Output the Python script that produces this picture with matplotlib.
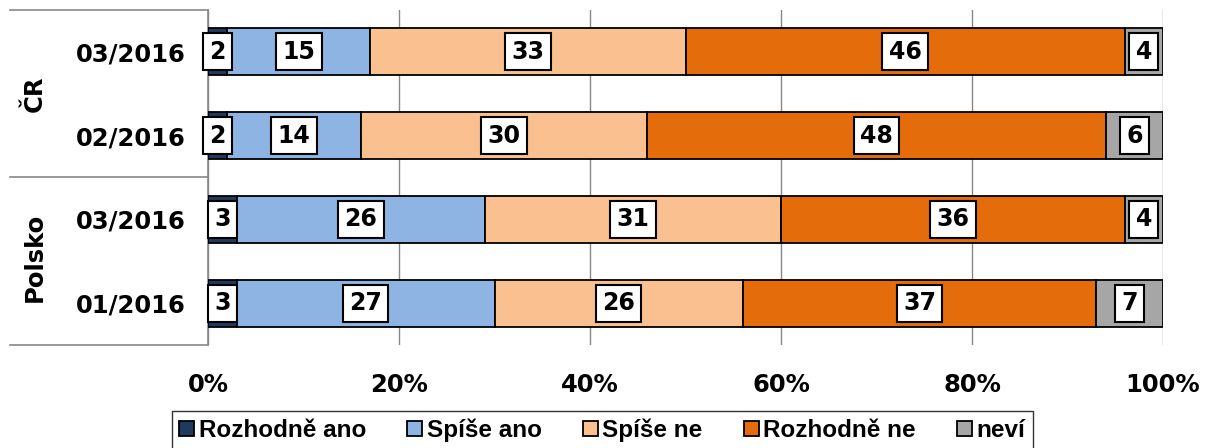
import numpy as np
import matplotlib
matplotlib.use("Agg")
import matplotlib.pyplot as plt
import matplotlib.transforms as mtransforms

# data (top to bottom)
row_labels = ["03/2016", "02/2016", "03/2016", "01/2016"]
groups = ["ČR", "Polsko"]
categories = ["Rozhodně ano", "Spíše ano", "Spíše ne", "Rozhodně ne", "neví"]
rozhodne_ano = [2, 2, 3, 3]
spise_ano = [15, 14, 26, 27]
spise_ne = [33, 30, 31, 26]
rozhodne_ne = [46, 48, 36, 37]
nevi = [4, 6, 4, 7]

colors = ["#1F3A5F", "#8DB4E2", "#FAC090", "#E46C0A", "#A6A6A6"]

plt.rcParams['font.family'] = ['DejaVu Sans']
plt.rcParams['font.weight'] = 'bold'

fig = plt.figure(figsize=(12.12, 4.48), dpi=100)
ax = fig.add_axes([208/1212, 1-345/448, (1163-208)/1212, (345-10)/448])

series = [rozhodne_ano, spise_ano, spise_ne, rozhodne_ne, nevi]
ypos = np.arange(len(row_labels))[::-1]
left = np.zeros(len(row_labels))
for vals, col, name in zip(series, colors, categories):
    vals = np.array(vals, dtype=float)
    ax.barh(ypos, vals, left=left, height=0.56, color=col, edgecolor='black',
            linewidth=1.3, label=name, zorder=3)
    for y, l, v in zip(ypos, left, vals):
        ax.text(l + v / 2, y, f"{int(v)}", ha='center', va='center',
                fontsize=17, fontweight='bold', zorder=5,
                bbox=dict(boxstyle='square,pad=0.27', fc='white', ec='black', lw=1.5))
    left += vals

ax.set_xlim(0, 100)
ax.set_ylim(-0.5, 3.5)
ax.set_xticks(np.arange(0, 101, 20))
ax.set_xticklabels([f"{v}%" for v in range(0, 101, 20)], fontsize=17.5, fontweight='bold')
ax.set_yticks(ypos)
ax.set_yticklabels(row_labels, fontsize=17.5, fontweight='bold')
ax.tick_params(axis='x', length=0, pad=20)
ax.tick_params(axis='y', length=0, pad=16)
ax.grid(axis='x', color='#888888', linewidth=1, zorder=0)
for s in ['top', 'right', 'bottom']:
    ax.spines[s].set_visible(False)
ax.spines['left'].set_color('#888888')
ax.spines['left'].set_linewidth(1.2)

# group separators and labels
trans = mtransforms.blended_transform_factory(ax.transAxes, ax.transData)
x0 = (10 - 208) / 955
for yb in [3.5, 1.5, -0.5]:
    ax.plot([x0, 0], [yb, yb], color='#888888', lw=1.2, transform=trans, clip_on=False)
for g, yc in zip(groups, [2.5, 0.55]):
    ax.text((35 - 208) / 955, yc, g, rotation=90, ha='center', va='center',
            fontsize=17.5, fontweight='bold', transform=trans)

leg = fig.legend(loc='lower center', bbox_to_anchor=(0.497, -0.03), ncol=5,
                 frameon=True, fancybox=False, edgecolor='black',
                 handlelength=0.6, handleheight=0.6, handletextpad=0.2,
                 columnspacing=1.7, borderpad=0.3,
                 prop={'family': 'Liberation Sans', 'weight': 'bold', 'size': 17.5})
leg.get_frame().set_linewidth(1.0)

fig.savefig("out.png", dpi=100)
